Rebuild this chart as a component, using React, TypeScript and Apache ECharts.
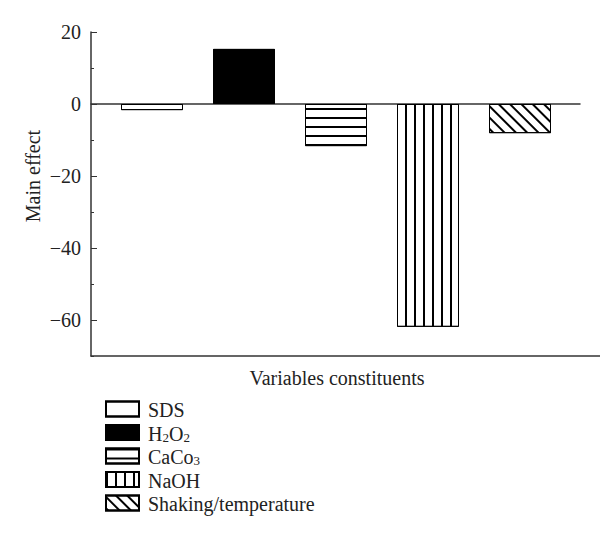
import React, { useEffect, useRef } from "react";
import * as echarts from "echarts";

const categories = ["SDS", "H2O2", "CaCo3", "NaOH", "Shaking/temperature"];
const values = [-1.7, 15.3, -11.7, -61.9, -8.1];
const yTickLabels = [20, 0, -20, -40, -60];
const yMin = -70;
const yMax = 20;

const FONT = "'Liberation Serif', 'DejaVu Serif', serif";
const LINE = "#333";
const FS = 20;

const fills = ["#ffffff", "#000000", "#ffffff", "#ffffff", "#ffffff"];
const decals: any[] = [
  { symbol: "none" },
  { symbol: "none" },
  { symbol: "rect", symbolSize: 1, dashArrayX: [1, 0], dashArrayY: [1.3, 7], rotation: 0, color: "#000", backgroundColor: "#fff" },
  { symbol: "rect", symbolSize: 1, dashArrayX: [1.3, 7], dashArrayY: [1, 0], rotation: 0, color: "#000", backgroundColor: "#fff" },
  { symbol: "rect", symbolSize: 1, dashArrayX: [1, 0], dashArrayY: [1.1, 6], rotation: Math.PI / 4, color: "#000", backgroundColor: "#fff" },
];

const fmtNum = (v: number) => (v < 0 ? "\u2212" + Math.abs(v) : String(v));

export default function App() {
  const ref = useRef<HTMLDivElement>(null);
  useEffect(() => {
    if (!ref.current) return;
    const chart = echarts.init(ref.current, undefined, { renderer: "svg" });
    const series = categories.map((name, i) => ({
      name,
      type: "bar",
      xAxisIndex: 1,
      yAxisIndex: 2,
      stack: "all",
      barWidth: 62,
      data: categories.map((_, j) => (j === i ? values[i] : "-")),
      itemStyle: {
        color: fills[i],
        borderColor: "#000",
        borderWidth: 1,
        decal: decals[i],
      },
    }));
    chart.setOption({
      animation: false,
      aria: { enabled: true, decal: { show: true } },
      grid: [
        { left: 91, right: 0, top: 32, bottom: 182 },
        { left: 106, right: 34, top: 32, bottom: 182 },
        { left: 91, right: 20, top: 32, bottom: 182 },
      ],
      xAxis: [
        {
          gridIndex: 0,
          type: "category",
          data: [""],
          axisLine: { onZero: false, lineStyle: { color: LINE, width: 1.5 } },
          axisTick: { show: false },
          axisLabel: { show: false },
        },
        {
          gridIndex: 1,
          type: "category",
          data: categories,
          axisLine: { show: false },
          axisTick: { show: false },
          axisLabel: { show: false },
        },
        {
          gridIndex: 2,
          type: "category",
          data: [""],
          axisLine: { onZero: true, lineStyle: { color: LINE, width: 1.5 } },
          axisTick: { show: false },
          axisLabel: { show: false },
        },
      ],
      yAxis: [
        {
          gridIndex: 0,
          type: "value",
          position: "left",
          min: yMin,
          max: yMax,
          interval: 10,
          axisLine: { show: true, lineStyle: { color: LINE, width: 1.5 } },
          axisTick: { show: true, inside: true, length: 3, lineStyle: { color: LINE } },
          axisLabel: { show: false },
          splitLine: { show: false },
        },
        {
          gridIndex: 0,
          type: "value",
          position: "left",
          offset: 0,
          min: yMin,
          max: yMax,
          interval: 10,
          axisLine: { show: false },
          axisTick: { show: true, inside: true, length: 6, customValues: yTickLabels, lineStyle: { color: LINE } },
          axisLabel: {
            show: true,
            customValues: yTickLabels,
            margin: 10,
            formatter: (v: number) => fmtNum(v),
            fontFamily: FONT,
            fontSize: FS,
            color: "#222",
          },
          splitLine: { show: false },
        },
        {
          gridIndex: 1,
          type: "value",
          min: yMin,
          max: yMax,
          show: false,
        },
        {
          gridIndex: 2,
          type: "value",
          min: yMin,
          max: yMax,
          show: false,
        },
      ],
      legend: {
        orient: "vertical",
        left: 100,
        top: 395,
        icon: "rect",
        itemWidth: 33,
        itemHeight: 15,
        itemGap: 3.5,
        data: categories,
        formatter: (name: string) => {
          if (name === "H2O2") return "{n|H}{s|2}{n|O}{s|2}";
          if (name === "CaCo3") return "{n|CaCo}{s|3}";
          return "{n|" + name + "}";
        },
        textStyle: {
          padding: [0, 0, 0, 4],
          rich: {
            n: { fontFamily: FONT, fontSize: FS, lineHeight: 22, verticalAlign: "bottom", color: "#222" },
            s: { fontFamily: FONT, fontSize: 13, lineHeight: 13, verticalAlign: "bottom", color: "#222" },
          },
        },
      },
      graphic: [
        {
          type: "text",
          x: 33,
          y: 176,
          rotation: Math.PI / 2,
          style: {
            text: "Main effect",
            font: FS + "px " + FONT,
            fill: "#222",
            align: "center",
            verticalAlign: "middle",
          },
        },
        {
          type: "text",
          x: 337,
          y: 378,
          style: {
            text: "Variables constituents",
            font: FS + "px " + FONT,
            fill: "#222",
            align: "center",
            verticalAlign: "middle",
          },
        },
      ],
      series,
    });
    return () => chart.dispose();
  }, []);
  return <div ref={ref} style={{ width: 600, height: 538, position: "absolute", left: 0, top: 0 }} />;
}
